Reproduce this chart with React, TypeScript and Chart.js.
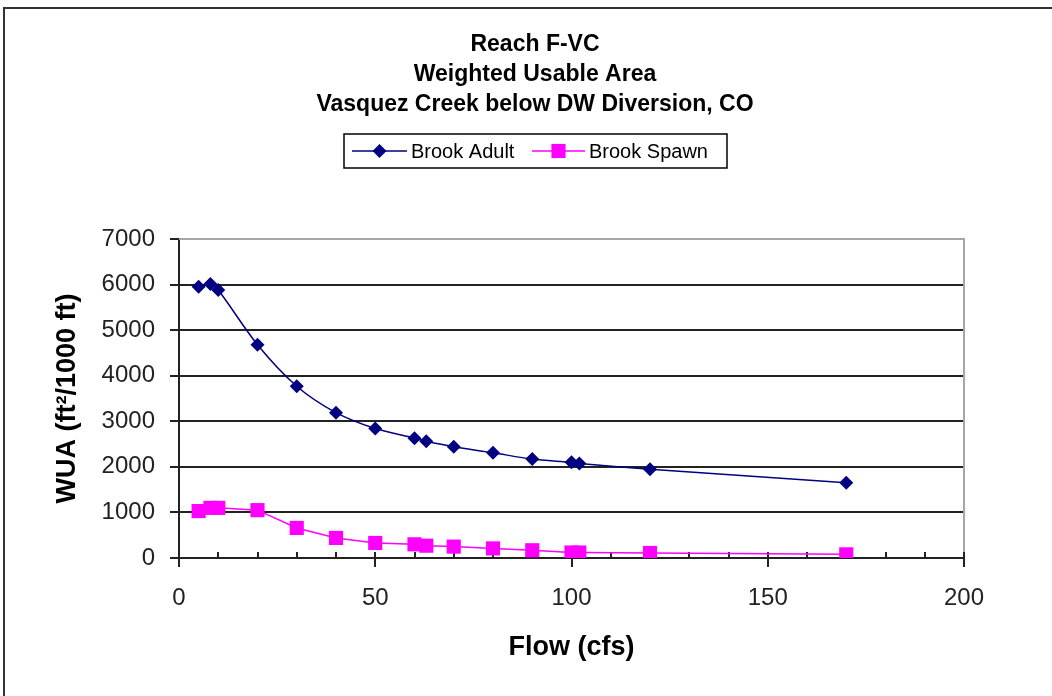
import React, { useEffect, useRef } from 'react';
import { Chart, registerables } from 'chart.js';

Chart.register(...registerables);

// ---- data ----
const flow = [5, 8, 10, 20, 30, 40, 50, 60, 63, 70, 80, 90, 100, 102, 120, 170];
const brookAdult = [5950, 6010, 5880, 4680, 3770, 3190, 2840, 2630, 2560, 2440, 2310, 2170, 2100, 2075, 1950, 1650];
const brookSpawn = [1030, 1100, 1100, 1050, 660, 440, 330, 300, 270, 250, 210, 170, 120, 120, 110, 80];
const seriesNames = ['Brook Adult', 'Brook Spawn'];
const titleLines = ['Reach F-VC', 'Weighted Usable Area', 'Vasquez Creek below DW Diversion, CO'];
const xTitle = 'Flow (cfs)';
const yTitle = 'WUA (ft\u00B2/1000 ft)';
const xMin = 0;
const xMax = 200;
const xMinorStep = 10;
const xMajorStep = 50;
const yMin = 0;
const yMax = 7000;
const yStep = 1000;

// ---- layout / style ----
const CANVAS_W = 1070;
const CANVAS_H = 696;
const CHART_LEFT = 179;
const CHART_RIGHT = 964;
const CHART_TOP = 239;
const CHART_BOTTOM = 558;
const TITLE_PAD_TOP = 30;
const FONT = '"Liberation Sans", Arial, Helvetica, sans-serif';
const DARK = '#222222';

const LEGEND_BOX = { x: 344, y: 134, w: 383, h: 34 };
const LEGEND_ITEMS = [
  { lineStart: 352, lineEnd: 407, textX: 411 },
  { lineStart: 532, lineEnd: 585, textX: 589 },
];

function drawMarker(ctx: CanvasRenderingContext2D, style: string, x: number, y: number, r: number, color: string) {
  ctx.fillStyle = color;
  ctx.beginPath();
  if (style === 'rectRot') {
    ctx.moveTo(x, y - r);
    ctx.lineTo(x + r, y);
    ctx.lineTo(x, y + r);
    ctx.lineTo(x - r, y);
    ctx.closePath();
  } else {
    const s = Math.SQRT1_2 * r;
    ctx.rect(x - s, y - s, 2 * s, 2 * s);
  }
  ctx.fill();
}

const decorPlugin = {
  id: 'decor',
  beforeDraw(chart: any) {
    const ctx = chart.ctx as CanvasRenderingContext2D;
    ctx.save();
    ctx.fillStyle = '#ffffff';
    ctx.fillRect(0, 0, chart.width, chart.height);
    ctx.strokeStyle = '#333333';
    ctx.lineWidth = 2;
    ctx.beginPath();
    ctx.moveTo(4, chart.height);
    ctx.lineTo(4, 8);
    ctx.lineTo(chart.width, 8);
    ctx.stroke();
    ctx.restore();
  },
  beforeDatasetsDraw(chart: any) {
    const ctx = chart.ctx as CanvasRenderingContext2D;
    const { left, right, top, bottom } = chart.chartArea;
    const xs = chart.scales.x;
    ctx.save();
    // plot area border (top and right)
    ctx.strokeStyle = '#a6a6a6';
    ctx.lineWidth = 2;
    ctx.beginPath();
    ctx.moveTo(left, top);
    ctx.lineTo(right, top);
    ctx.lineTo(right, bottom);
    ctx.stroke();
    // x tick marks: minor inside, major crossing
    ctx.strokeStyle = DARK;
    ctx.lineWidth = 2;
    xs.ticks.forEach((t: any) => {
      const px = Math.round(xs.getPixelForValue(t.value));
      const major = t.value % xMajorStep === 0;
      ctx.beginPath();
      ctx.moveTo(px, bottom - 6);
      ctx.lineTo(px, major ? bottom + 9 : bottom);
      ctx.stroke();
    });
    ctx.restore();
  },
  afterDraw(chart: any) {
    const ctx = chart.ctx as CanvasRenderingContext2D;
    ctx.save();
    ctx.strokeStyle = '#000000';
    ctx.lineWidth = 1.5;
    ctx.strokeRect(LEGEND_BOX.x, LEGEND_BOX.y, LEGEND_BOX.w, LEGEND_BOX.h);
    const cy = LEGEND_BOX.y + LEGEND_BOX.h / 2;
    chart.data.datasets.forEach((ds: any, i: number) => {
      const it = LEGEND_ITEMS[i];
      ctx.strokeStyle = ds.borderColor;
      ctx.lineWidth = ds.borderWidth;
      ctx.beginPath();
      ctx.moveTo(it.lineStart, cy);
      ctx.lineTo(it.lineEnd, cy);
      ctx.stroke();
      drawMarker(ctx, ds.pointStyle, (it.lineStart + it.lineEnd) / 2, cy, ds.pointRadius, ds.pointBackgroundColor);
      ctx.fillStyle = '#000000';
      ctx.font = `20px ${FONT}`;
      ctx.textAlign = 'left';
      ctx.textBaseline = 'middle';
      ctx.fillText(ds.label, it.textX, cy + 1);
    });
    ctx.restore();
  },
};

export default function App() {
  const canvasRef = useRef<HTMLCanvasElement | null>(null);

  useEffect(() => {
    const canvas = canvasRef.current;
    if (!canvas) return;
    const chart = new Chart(canvas, {
      type: 'line',
      data: {
        datasets: [
          {
            label: seriesNames[0],
            data: flow.map((f, i) => ({ x: f, y: brookAdult[i] })),
            borderColor: '#000080',
            backgroundColor: '#000080',
            pointBackgroundColor: '#000080',
            pointBorderColor: '#000080',
            pointStyle: 'rectRot',
            pointRadius: 7,
            pointBorderWidth: 0,
            borderWidth: 1.5,
            tension: 0.3,
            yAxisID: 'y',
          },
          {
            label: seriesNames[1],
            data: flow.map((f, i) => ({ x: f, y: brookSpawn[i] })),
            borderColor: '#ff00ff',
            backgroundColor: '#ff00ff',
            pointBackgroundColor: '#ff00ff',
            pointBorderColor: '#ff00ff',
            pointStyle: 'rect',
            pointRadius: 10,
            pointBorderWidth: 0,
            borderWidth: 1.5,
            tension: 0,
            yAxisID: 'y',
          },
        ],
      } as any,
      options: {
        animation: false,
        responsive: false,
        devicePixelRatio: 1,
        layout: { padding: 0 },
        plugins: {
          legend: { display: false },
          tooltip: { enabled: false },
          title: {
            display: true,
            text: titleLines,
            color: '#000000',
            font: { family: FONT, size: 23, weight: 'bold', lineHeight: '30px' },
            padding: { top: TITLE_PAD_TOP, bottom: CHART_TOP - TITLE_PAD_TOP - 90 },
          },
        },
        scales: {
          x: {
            type: 'linear',
            min: xMin,
            max: xMax,
            afterFit: (s: any) => {
              s.height = CANVAS_H - CHART_BOTTOM;
            },
            ticks: {
              stepSize: xMinorStep,
              autoSkip: false,
              maxRotation: 0,
              padding: 26,
              color: DARK,
              font: { family: FONT, size: 24 },
              callback: (v: any) => (Number(v) % xMajorStep === 0 ? String(v) : ''),
            },
            grid: { display: true, drawOnChartArea: false, drawTicks: false },
            border: { display: true, color: DARK, width: 2 },
            title: {
              display: true,
              text: xTitle,
              color: '#000000',
              font: { family: FONT, size: 27, weight: 'bold', lineHeight: '30px' },
              padding: { top: 0, bottom: 33 },
            },
          },
          y: {
            type: 'linear',
            position: 'left',
            min: yMin,
            max: yMax,
            afterFit: (s: any) => {
              s.width = CHART_LEFT;
            },
            ticks: {
              stepSize: yStep,
              padding: 15,
              color: DARK,
              font: { family: FONT, size: 24 },
              callback: (v: any) => String(v),
            },
            grid: {
              color: (c: any) => (c.tick && c.tick.value === yMax ? 'rgba(0,0,0,0)' : DARK),
              tickColor: DARK,
              lineWidth: 2,
              tickLength: 9,
              drawTicks: true,
            },
            border: { display: true, color: DARK, width: 2 },
            title: {
              display: true,
              text: yTitle,
              color: '#000000',
              font: { family: FONT, size: 27, weight: 'bold', lineHeight: '30px' },
              padding: { top: 53, bottom: 0 },
            },
          },
          yRight: {
            type: 'linear',
            position: 'right',
            display: true,
            afterFit: (s: any) => {
              s.width = CANVAS_W - CHART_RIGHT;
            },
            ticks: { display: false },
            grid: { display: false },
            border: { display: false },
          },
        },
      } as any,
      plugins: [decorPlugin],
    });
    return () => chart.destroy();
  }, []);

  return (
    <div
      style={{
        position: 'fixed',
        left: 0,
        top: 0,
        width: 1052,
        height: 696,
        overflow: 'hidden',
        background: '#ffffff',
      }}
    >
      <canvas ref={canvasRef} width={CANVAS_W} height={CANVAS_H} style={{ display: 'block' }} />
    </div>
  );
}
